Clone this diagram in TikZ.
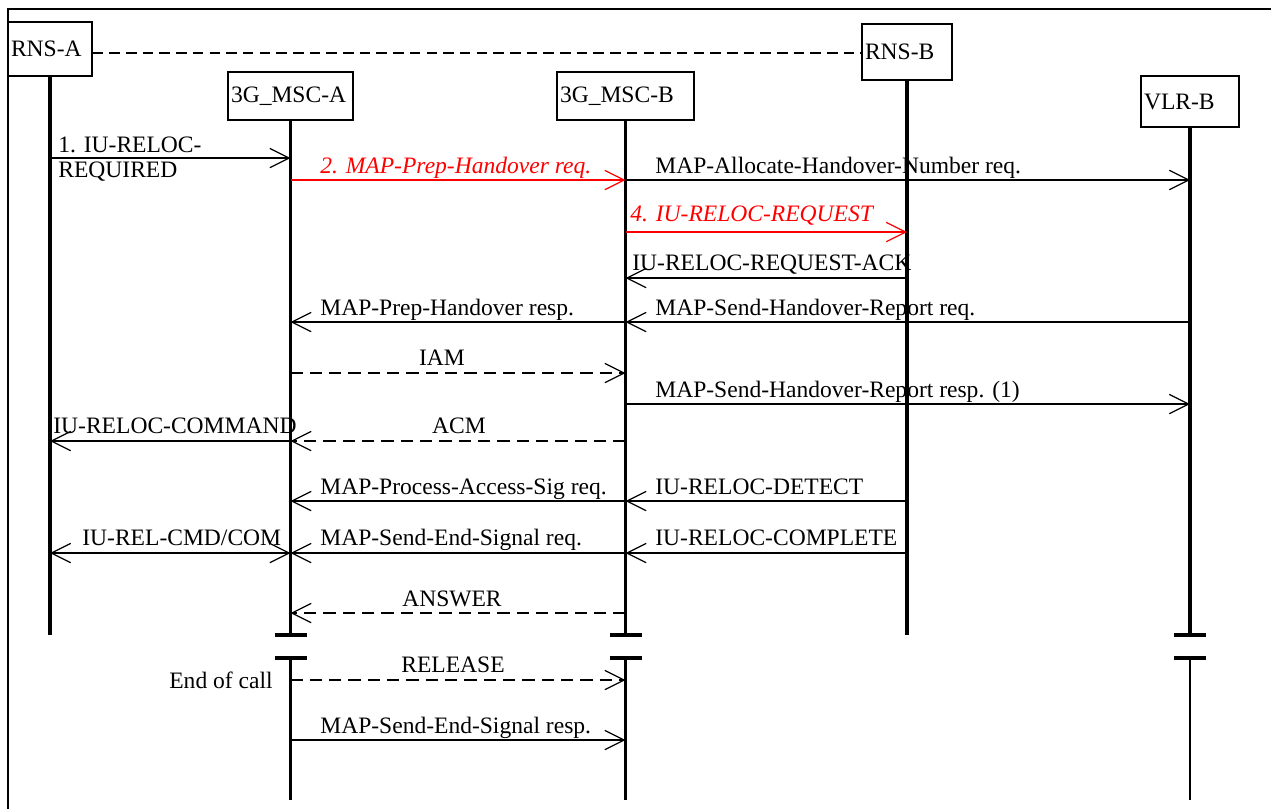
\documentclass[tikz,border=0pt]{standalone}
\usepackage{fontspec}
\setmainfont{Liberation Serif}
\usetikzlibrary{arrows.meta}
\begin{document}
\begin{tikzpicture}[x=0.02cm,y=-0.02cm,
  font=\fontsize{13.4}{14.2}\selectfont,
  entity/.style={draw,line width=0.8pt,inner xsep=0.06cm,inner ysep=2pt,align=left},
  life/.style={line width=2.2pt},
  thinlife/.style={line width=1.4pt},
  tip/.tip={Straight Barb[length=11pt,width=11pt]},
  msg/.style={line width=0.7pt,-tip},
  dmsg/.style={msg,dash pattern=on 7pt off 4pt},
  redmsg/.style={msg,red},
  lbl/.style={inner sep=0pt,anchor=base west},
  redlbl/.style={lbl,red,font=\fontsize{13.4}{14.2}\selectfont\itshape},
  bar/.style={line width=2.2pt}]
  \useasboundingbox (0,0) rectangle (1271,809);
  \draw[line width=0.6pt] (1271,9) -- (8,9) -- (8,809);

  % entities
  \node[entity,text width=1.56cm,minimum height=1.08cm] (rnsa) at (50,49) {RNS-A};
  \node[entity,text width=2.38cm,minimum height=0.96cm] (msca) at (290.5,96) {3G\_MSC-A};
  \node[entity,text width=2.62cm,minimum height=0.96cm] (mscb) at (625.5,96) {3G\_MSC-B};
  \node[entity,text width=1.68cm,minimum height=1.12cm] (rnsb) at (907,52) {RNS-B\\[3pt]};
  \node[entity,text width=1.84cm,minimum height=1.02cm] (vlrb) at (1190,101.5) {VLR-B};
  \draw[dash pattern=on 6pt off 3.5pt,line width=0.7pt] (rnsa.east |- 0,53) -- (rnsb.west |- 0,53);

  % lifelines
  \draw[life] (rnsa.south) -- (rnsa |- 0,635);
  \draw[life] (msca.south) -- (msca |- 0,635);
  \draw[life] (mscb.south) -- (mscb |- 0,635);
  \draw[life] (rnsb.south) -- (rnsb |- 0,635);
  \draw[life] (vlrb.south) -- (vlrb |- 0,635);
  \draw[life] (msca |- 0,658) -- (msca |- 0,800);
  \draw[thinlife] (mscb |- 0,658) -- (mscb |- 0,800);
  \draw[thinlife] (vlrb |- 0,658) -- (vlrb |- 0,800);
  \foreach \x in {290.5,625.5,1190} {
    \draw[bar] (\x-16,635) -- (\x+16,635);
    \draw[bar] (\x-16,658) -- (\x+16,658);
  }

  % messages
  \draw[msg] (rnsa |- 0,158) -- (msca |- 0,158);
  \node[lbl] (l1a) at (58,152) {1. IU-RELOC-};
  \node[lbl] (l1b) at (58,177) {REQUIRED};
  \draw[redmsg] (msca |- 0,180) -- (mscb |- 0,180);
  \node[redlbl] (l2) at (320,173) {2. MAP-Prep-Handover req.};
  \draw[msg] (mscb |- 0,180) -- (vlrb |- 0,180);
  \node[lbl] (l3) at (655,173) {MAP-Allocate-Handover-Number req.};
  \draw[redmsg] (mscb |- 0,232) -- (rnsb |- 0,232);
  \node[redlbl] (l4) at (630,221) {4. IU-RELOC-REQUEST};
  \draw[msg] (rnsb |- 0,278) -- (mscb |- 0,278);
  \node[lbl] (l5) at (632,270) {IU-RELOC-REQUEST-ACK};
  \draw[msg] (vlrb |- 0,322) -- (mscb |- 0,322);
  \node[lbl] (l6) at (655,315) {MAP-Send-Handover-Report req.};
  \draw[msg] (mscb |- 0,322) -- (msca |- 0,322);
  \node[lbl] (l7) at (320,315) {MAP-Prep-Handover resp.};
  \draw[dmsg] (msca |- 0,373) -- (mscb |- 0,373);
  \node[lbl,anchor=base] (l8) at (442,365) {IAM};
  \draw[msg] (mscb |- 0,404) -- (vlrb |- 0,404);
  \node[lbl] (l9) at (655,397) {MAP-Send-Handover-Report resp. (1)};
  \draw[dmsg] (mscb |- 0,441) -- (msca |- 0,441);
  \node[lbl,anchor=base] (l10) at (459,433) {ACM};
  \draw[msg] (msca |- 0,441) -- (rnsa |- 0,441);
  \node[lbl] (l11) at (53,433) {IU-RELOC-COMMAND};
  \draw[msg] (rnsb |- 0,501) -- (mscb |- 0,501);
  \node[lbl] (l12) at (655,494) {IU-RELOC-DETECT};
  \draw[msg] (mscb |- 0,501) -- (msca |- 0,501);
  \node[lbl] (l13) at (320,494) {MAP-Process-Access-Sig req.};
  \draw[msg] (rnsb |- 0,553) -- (mscb |- 0,553);
  \node[lbl] (l14) at (655,545) {IU-RELOC-COMPLETE};
  \draw[msg] (mscb |- 0,553) -- (msca |- 0,553);
  \node[lbl] (l15) at (320,545) {MAP-Send-End-Signal req.};
  \draw[msg,tip-tip] (rnsa |- 0,553) -- (msca |- 0,553);
  \node[lbl] (l16) at (82,545) {IU-REL-CMD/COM};
  \draw[dmsg] (mscb |- 0,613) -- (msca |- 0,613);
  \node[lbl,anchor=base] (l17) at (452,606) {ANSWER};
  \draw[dmsg] (msca |- 0,680) -- (mscb |- 0,680);
  \node[lbl,anchor=base] (l18) at (453,672) {RELEASE};
  \node[lbl,anchor=base east] (endcall) at (273,688) {End of call};
  \draw[msg] (msca |- 0,740) -- (mscb |- 0,740);
  \node[lbl] (l19) at (320,733) {MAP-Send-End-Signal resp.};
\end{tikzpicture}
\end{document}
